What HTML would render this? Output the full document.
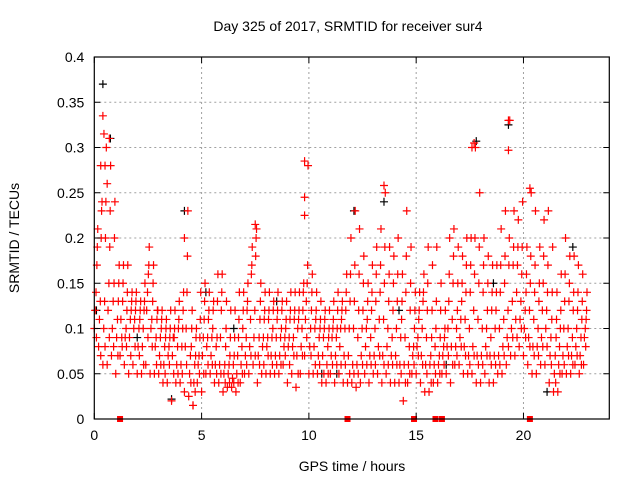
<!DOCTYPE html>
<html><head><meta charset="utf-8"><style>
html,body{margin:0;padding:0;background:#fff}
svg{display:block;font-family:"Liberation Sans",Arial,sans-serif}
</style></head><body>
<svg id="chart" width="640" height="480" viewBox="0 0 640 480" xmlns="http://www.w3.org/2000/svg">
<text x="348" y="31" font-size="14" text-anchor="middle">Day 325 of 2017, SRMTID for receiver sur4</text>
<text x="352" y="471" font-size="14" text-anchor="middle">GPS time / hours</text>
<text x="19" y="238" font-size="14" text-anchor="middle" transform="rotate(-90 19 238)">SRMTID / TECUs</text>
<g id="grid"></g>
<g id="marks"></g>
<g id="axes"></g>
</svg>
<script>
const xTicks=[0,5,10,15,20];
const yTicks=[0,0.05,0.1,0.15,0.2,0.25,0.3,0.35,0.4];
const yTickLabels=["0","0.05","0.1","0.15","0.2","0.25","0.3","0.35","0.4"];
const stepHours=0.2;
const seriesLo=[0.10,0.08,0.06,0.06,0.07,0.05,0.07,0.06,0.05,0.06,
0.05,0.05,0.06,0.05,0.05,0.05,0.04,0.04,0.02,0.04,
0.04,0.03,0.025,0.015,0.04,0.03,0.05,0.05,0.04,0.04,
0.03,0.035,0.035,0.03,0.04,0.05,0.05,0.06,0.04,0.05,
0.05,0.05,0.05,0.05,0.06,0.04,0.05,0.035,0.05,0.07,
0.05,0.05,0.05,0.04,0.04,0.05,0.04,0.05,0.04,0.04,
0.04,0.035,0.04,0.05,0.04,0.05,0.05,0.04,0.05,0.04,
0.04,0.04,0.02,0.04,0.05,0.05,0.04,0.03,0.03,0.04,
0.04,0.05,0.05,0.04,0.06,0.06,0.05,0.05,0.05,0.04,
0.04,0.05,0.04,0.04,0.05,0.05,0.06,0.07,0.07,0.08,
0.07,0.06,0.05,0.05,0.06,0.06,0.04,0.03,0.03,0.05,
0.05,0.05,0.06,0.05,0.06];
const seriesMid1=[0.12,0.11,0.10,0.12,0.10,0.09,0.11,0.09,0.09,0.10,
0.08,0.08,0.12,0.10,0.08,0.07,0.06,0.07,0.07,0.06,
0.06,0.08,0.05,0.04,0.06,0.07,0.08,0.07,0.06,0.06,
0.05,0.05,0.045,0.05,0.06,0.07,0.08,0.09,0.07,0.08,
0.08,0.07,0.07,0.07,0.08,0.08,0.08,0.07,0.08,0.11,
0.08,0.08,0.07,0.07,0.06,0.07,0.07,0.08,0.07,0.07,
0.06,0.06,0.07,0.08,0.07,0.07,0.08,0.07,0.08,0.07,
0.07,0.06,0.06,0.06,0.07,0.08,0.07,0.06,0.06,0.06,
0.06,0.07,0.08,0.08,0.08,0.09,0.08,0.07,0.08,0.07,
0.07,0.08,0.07,0.07,0.07,0.08,0.09,0.10,0.11,0.11,
0.10,0.09,0.08,0.08,0.09,0.10,0.07,0.05,0.06,0.07,
0.08,0.07,0.08,0.07,0.09];
const seriesMid2=[0.14,0.13,0.13,0.15,0.13,0.11,0.09,0.10,0.11,0.11,
0.10,0.10,0.14,0.11,0.09,0.09,0.08,0.08,0.09,0.08,
0.08,0.10,0.07,0.06,0.07,0.09,0.09,0.09,0.08,0.09,
0.06,0.06,0.06,0.07,0.08,0.09,0.11,0.12,0.09,0.09,
0.09,0.09,0.09,0.09,0.09,0.09,0.09,0.10,0.10,0.13,
0.10,0.10,0.09,0.09,0.08,0.09,0.09,0.10,0.10,0.10,
0.10,0.09,0.10,0.10,0.09,0.10,0.11,0.11,0.10,0.09,
0.10,0.09,0.09,0.08,0.08,0.09,0.10,0.09,0.07,0.08,
0.07,0.08,0.10,0.11,0.10,0.11,0.11,0.10,0.12,0.11,
0.10,0.10,0.09,0.10,0.10,0.11,0.12,0.13,0.14,0.13,
0.12,0.12,0.11,0.10,0.12,0.12,0.09,0.07,0.08,0.10,
0.10,0.09,0.10,0.09,0.10];
const seriesMid3=[0.17,0.20,0.20,0.19,0.15,0.13,0.13,0.12,0.12,0.12,
0.11,0.12,0.16,0.13,0.11,0.10,0.09,0.09,0.09,0.10,
0.10,0.14,0.08,0.07,0.09,0.11,0.11,0.10,0.09,0.12,
0.08,0.07,0.07,0.09,0.10,0.12,0.16,0.18,0.11,0.11,
0.11,0.10,0.11,0.10,0.10,0.11,0.11,0.11,0.12,0.15,
0.12,0.11,0.10,0.10,0.09,0.10,0.10,0.11,0.12,0.13,
0.13,0.12,0.12,0.11,0.12,0.13,0.14,0.15,0.13,0.12,
0.13,0.11,0.14,0.12,0.10,0.11,0.13,0.12,0.09,0.10,
0.09,0.09,0.13,0.15,0.12,0.13,0.14,0.14,0.16,0.15,
0.14,0.12,0.12,0.12,0.14,0.15,0.17,0.17,0.17,0.16,
0.14,0.15,0.14,0.13,0.15,0.14,0.11,0.09,0.10,0.13,
0.13,0.12,0.12,0.11,0.11];
const seriesHi=[0.21,0.24,0.30,0.28,0.24,0.17,0.17,0.17,0.14,0.14,
0.13,0.15,0.19,0.17,0.12,0.12,0.11,0.12,0.12,0.13,
0.14,0.23,0.12,0.10,0.14,0.15,0.14,0.13,0.16,0.16,
0.13,0.12,0.12,0.14,0.14,0.15,0.19,0.21,0.15,0.14,
0.14,0.13,0.14,0.13,0.13,0.14,0.14,0.14,0.15,0.28,
0.16,0.14,0.13,0.12,0.12,0.13,0.14,0.13,0.16,0.20,
0.23,0.21,0.18,0.15,0.17,0.19,0.21,0.25,0.19,0.18,
0.20,0.16,0.23,0.19,0.14,0.14,0.16,0.19,0.17,0.19,
0.15,0.12,0.20,0.21,0.19,0.18,0.20,0.20,0.30,0.25,
0.20,0.18,0.17,0.17,0.21,0.23,0.33,0.23,0.22,0.24,
0.19,0.25,0.23,0.19,0.22,0.23,0.19,0.14,0.16,0.20,
0.18,0.18,0.17,0.16,0.14];
const seriesMid4=[0.09,0.07,0.08,0.09,0.08,0.07,0.08,0.08,0.07,0.08,
0.07,0.06,0.09,0.08,0.06,0.06,0.05,0.06,0.05,0.05,
0.05,0.06,0.04,0.03,0.05,0.05,0.06,0.06,0.05,0.05,
0.04,0.04,0.04,0.04,0.05,0.06,0.07,0.07,0.06,0.06,
0.07,0.06,0.06,0.06,0.07,0.06,0.07,0.05,0.07,0.09,
0.07,0.06,0.06,0.05,0.05,0.06,0.06,0.06,0.06,0.05,
0.05,0.05,0.06,0.06,0.06,0.06,0.07,0.06,0.06,0.06,
0.06,0.05,0.04,0.05,0.06,0.07,0.06,0.05,0.04,0.05,
0.05,0.06,0.07,0.06,0.07,0.08,0.07,0.06,0.07,0.06,
0.06,0.07,0.06,0.06,0.06,0.07,0.08,0.09,0.09,0.10,
0.09,0.08,0.07,0.07,0.08,0.08,0.06,0.04,0.05,0.06,
0.07,0.06,0.07,0.06,0.08];
const seriesMid5=[0.19,0.23,0.24,0.23,0.20,0.15,0.15,0.14,0.13,0.13,
0.12,0.13,0.17,0.15,0.12,0.11,0.10,0.10,0.10,0.11,
0.12,0.18,0.10,0.09,0.11,0.13,0.12,0.12,0.13,0.14,
0.10,0.09,0.09,0.11,0.12,0.13,0.17,0.20,0.13,0.12,
0.12,0.12,0.12,0.12,0.11,0.12,0.12,0.12,0.14,0.17,
0.14,0.12,0.11,0.11,0.10,0.11,0.12,0.12,0.14,0.16,
0.17,0.16,0.15,0.13,0.14,0.16,0.17,0.19,0.16,0.15,
0.16,0.13,0.18,0.15,0.12,0.12,0.14,0.15,0.12,0.13,
0.12,0.10,0.16,0.18,0.15,0.15,0.17,0.17,0.20,0.19,
0.17,0.15,0.14,0.14,0.17,0.18,0.20,0.19,0.19,0.19,
0.16,0.18,0.17,0.15,0.18,0.17,0.14,0.11,0.12,0.16,
0.15,0.14,0.14,0.13,0.12];
const spikeHours=[0.4,0.45,0.5,0.7,4.2,9.8,9.8,9.8,13.5,17.6,17.7,19.3,19.3,20.3,7.5,4.6,0.3,0.6];
const spikeValues=[0.335,0.315,0.28,0.31,0.2,0.285,0.245,0.225,0.258,0.3,0.305,0.33,0.297,0.255,0.215,0.015,0.28,0.26];
const blackHours=[0.4,0.75,4.2,19.3,17.8,3.6,12.1,13.5,0.1,2.0,5.2,8.5,10.6,14.2,16.4,18.6,21.1,22.3,6.5,11.3];
const blackValues=[0.37,0.31,0.23,0.325,0.307,0.022,0.23,0.24,0.12,0.09,0.14,0.13,0.05,0.12,0.06,0.15,0.03,0.19,0.1,0.05];
const zeroHours=[1.2,11.8,14.9,15.9,16.2,20.3];

const X0=94.3,X1=609.3,Y0=419,Y1=57;
const xs=h=>X0+(h/24)*(X1-X0);
const ys=v=>Y0-(v/0.4)*(Y0-Y1);
const NS="http://www.w3.org/2000/svg";
const grid=document.getElementById('grid'),marks=document.getElementById('marks'),axes=document.getElementById('axes');
function mk(tag,attrs,parent){const e=document.createElementNS(NS,tag);for(const k in attrs)e.setAttribute(k,attrs[k]);parent.appendChild(e);return e;}

xTicks.forEach(t=>{
  const x=xs(t);
  if(t>0){const g=mk('line',{x1:x,y1:Y0,x2:x,y2:Y1,stroke:'#a0a0a0','stroke-dasharray':'2,3'},grid);
  
  }
  mk('line',{x1:x,y1:Y0,x2:x,y2:Y0-6,stroke:'#000'},axes);
  mk('line',{x1:x,y1:Y1,x2:x,y2:Y1+6,stroke:'#000'},axes);
  const tx=mk('text',{x:x,y:Y0+21,'font-size':14,'text-anchor':'middle'},axes);
  tx.textContent=String(t);
  
  
});
yTicks.forEach((t,i)=>{
  const y=ys(t);
  if(i>0&&i<yTicks.length-1){const g=mk('line',{x1:X0,y1:y,x2:X1,y2:y,stroke:'#a0a0a0','stroke-dasharray':'2,3'},grid);
  
  }
  mk('line',{x1:X0,y1:y,x2:X0+6,y2:y,stroke:'#000'},axes);
  mk('line',{x1:X1,y1:y,x2:X1-6,y2:y,stroke:'#000'},axes);
  const tx=mk('text',{x:X0-10,y:y+5,'font-size':14,'text-anchor':'end'},axes);
  tx.textContent=yTickLabels[i];
  
  
});
const frame=mk('rect',{x:X0,y:Y1,width:X1-X0,height:Y0-Y1,fill:'none',stroke:'#000','stroke-width':1.2},axes);



function plus(h,v,color,name){
  const x=xs(h),y=ys(v);
  const p=mk('path',{d:`M${x-4} ${y}H${x+4}M${x} ${y-4}V${y+4}`,stroke:color,'stroke-width':1.2,fill:'none'},marks);
  
  
}
blackHours.forEach((h,i)=>plus(h,blackValues[i],'#000','black-point'));
const redSeries=[seriesLo,seriesMid1,seriesMid2,seriesMid3,seriesHi,seriesMid4,seriesMid5];
redSeries.forEach((arr,k)=>{
  const shift=(k%5)*0.04+(k>=5?0.1:0);
  arr.forEach((v,i)=>{plus(i*stepHours+shift,v,'#f00','red-point');});
});
spikeHours.forEach((h,i)=>plus(h,spikeValues[i],'#f00','red-point'));
zeroHours.forEach(h=>{
  const r=mk('rect',{x:xs(h)-3,y:Y0-3,width:6,height:6,fill:'#f00'},marks);
  
  
});
</script>
</body></html>
